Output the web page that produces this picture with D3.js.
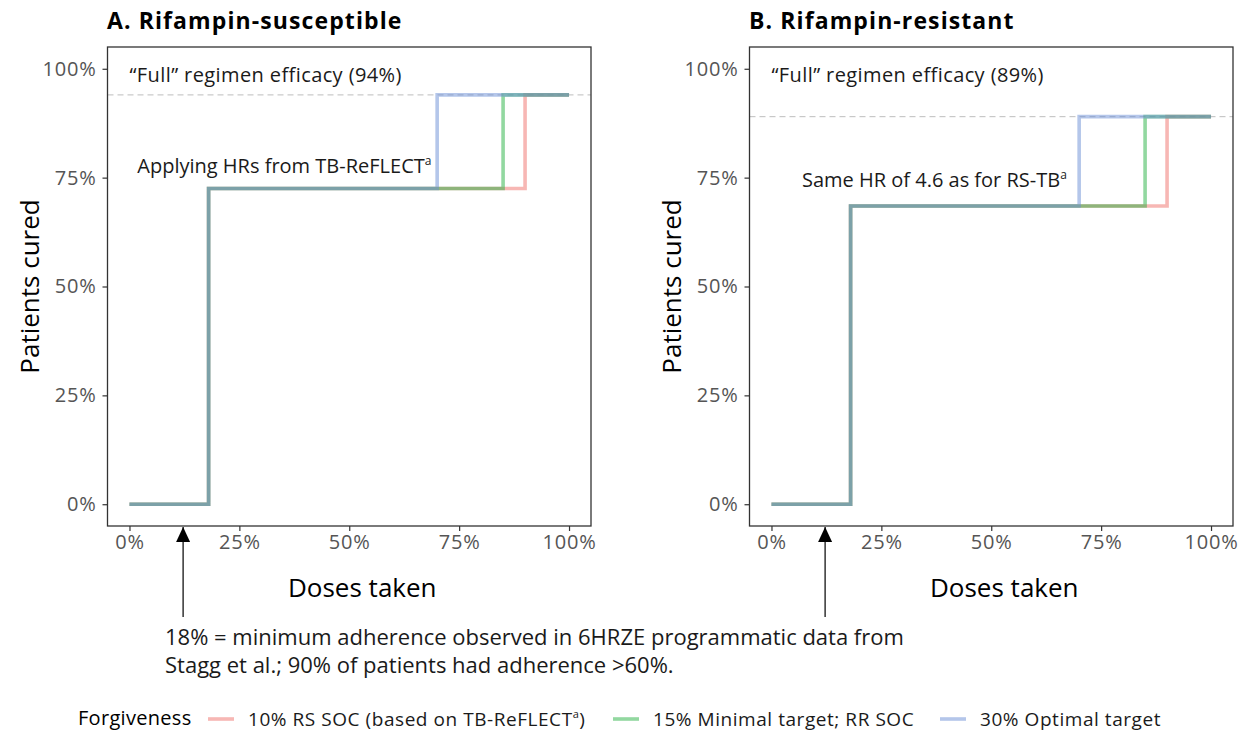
<!DOCTYPE html>
<html>
<head>
<meta charset="utf-8">
<script src="https://cdn.jsdelivr.net/npm/d3@7"></script>
<style>
  body { margin: 0; background: #fff; }
  text { font-family: "Open Sans", "Noto Sans", sans-serif; }
</style>
</head>
<body>
<script>
// data
const panelTitles = ["A. Rifampin-susceptible", "B. Rifampin-resistant"];
const fullEfficacy = [0.94, 0.89];
const partialCure = [0.725, 0.685];
const fullLabels = ["\u201CFull\u201D regimen efficacy (94%)", "\u201CFull\u201D regimen efficacy (89%)"];
const hrLabels = ["Applying HRs from TB-ReFLECT", "Same HR of 4.6 as for RS-TB"];
const minAdherence = 0.18;
const arrowAt = 0.122;
const forgiveness = ["10% RS SOC (based on TB-ReFLECT", "15% Minimal target; RR SOC", "30% Optimal target"];
const fullDoseAt = [0.90, 0.85, 0.70];   // dose fraction where cure reaches full efficacy
const seriesColors = ["#EF6F69", "#25B141", "#698DD5"];
const tickValues = [0, 0.25, 0.5, 0.75, 1];
const footnote = ["18% = minimum adherence observed in 6HRZE programmatic data from",
                  "Stagg et al.; 90% of patients had adherence >60%."];

const width = 1254, height = 734;
const panelLeft = [107.5, 749.5];
const panelW = 483.5;
const plotTop = 47, plotBottom = 526;

const svg = d3.select("body").append("svg")
    .attr("width", width)
    .attr("height", height);

svg.append("defs").append("marker")
    .attr("id", "arrow")
    .attr("viewBox", "0 0 14 15")
    .attr("refX", 7).attr("refY", 0)
    .attr("markerWidth", 14).attr("markerHeight", 15)
    .attr("markerUnits", "userSpaceOnUse")
    .attr("orient", "0")
    .append("path")
    .attr("d", "M0,15 L7,0 L14,15 Z")
    .attr("fill", "#000");

const pct = d3.format(".0%");

panelTitles.forEach((title, p) => {
    const x = d3.scaleLinear().domain([-0.05, 1.05]).range([panelLeft[p], panelLeft[p] + panelW]);
    const y = d3.scaleLinear().domain([-0.05, 1.05]).range([plotBottom, plotTop]);
    const g = svg.append("g");

    // title
    g.append("text")
        .attr("x", panelLeft[p] - 0.5).attr("y", 29)
        .attr("font-size", 23).attr("font-weight", "bold")
        .attr("letter-spacing", 1.1)
        .attr("fill", "#000")
        .text(title);

    // reference line at full efficacy
    g.append("line")
        .attr("x1", x.range()[0]).attr("x2", x.range()[1])
        .attr("y1", y(fullEfficacy[p])).attr("y2", y(fullEfficacy[p]))
        .attr("stroke", "#bdbdbd").attr("stroke-width", 1)
        .attr("stroke-dasharray", "6,4");

    // step lines
    const line = d3.line()
        .x(d => x(d[0]))
        .y(d => y(d[1]))
        .curve(d3.curveStepAfter);

    fullDoseAt.forEach((fx, i) => {
        const pts = [[0, 0], [minAdherence, partialCure[p]], [fx, fullEfficacy[p]], [1, fullEfficacy[p]]];
        g.append("path")
            .datum(pts)
            .attr("fill", "none")
            .attr("stroke", seriesColors[i])
            .attr("stroke-opacity", 0.5)
            .attr("stroke-width", 3.6)
            .attr("d", line);
    });

    // annotations
    g.append("text")
        .attr("x", x(0)).attr("y", 82)
        .attr("font-size", 20).attr("letter-spacing", 0.4).attr("fill", "#1a1a1a")
        .text(fullLabels[p]);

    const hr = g.append("text")
        .attr("x", p === 0 ? x(0.687) : x(0.672))
        .attr("y", p === 0 ? 173 : 187)
        .attr("text-anchor", "end")
        .attr("font-size", 20).attr("fill", "#1a1a1a");
    hr.append("tspan").text(hrLabels[p]);
    hr.append("tspan").attr("font-size", 12).attr("dy", -8).text("a");

    // axes
    const xAxis = d3.axisBottom(x).tickValues(tickValues).tickFormat(pct).tickSize(5).tickPadding(4);
    const yAxis = d3.axisLeft(y).tickValues(tickValues).tickFormat(pct).tickSize(5).tickPadding(6);

    g.append("g")
        .attr("transform", `translate(0,${plotBottom})`)
        .call(xAxis)
        .call(a => a.select(".domain").remove())
        .call(a => a.selectAll(".tick line").attr("stroke", "#333").attr("stroke-width", 1.2))
        .call(a => a.selectAll(".tick text").attr("font-size", 20).attr("letter-spacing", 0.8)
            .attr("fill", "#555").attr("font-family", "'Open Sans', sans-serif"));

    g.append("g")
        .attr("transform", `translate(${panelLeft[p]},0)`)
        .call(yAxis)
        .call(a => a.select(".domain").remove())
        .call(a => a.selectAll(".tick line").attr("stroke", "#333").attr("stroke-width", 1.2))
        .call(a => a.selectAll(".tick text").attr("font-size", 20).attr("letter-spacing", 0.8)
            .attr("fill", "#555").attr("font-family", "'Open Sans', sans-serif"));

    // panel border
    g.append("rect")
        .attr("x", panelLeft[p]).attr("y", plotTop)
        .attr("width", panelW).attr("height", plotBottom - plotTop)
        .attr("fill", "none").attr("stroke", "#333").attr("stroke-width", 1.3);

    // axis titles
    g.append("text")
        .attr("x", (x.range()[0] + x.range()[1]) / 2 + 13).attr("y", 597)
        .attr("text-anchor", "middle")
        .attr("font-size", 26).attr("fill", "#000")
        .text("Doses taken");

    g.append("text")
        .attr("transform", `translate(${panelLeft[p] - 69},${(plotTop + plotBottom) / 2}) rotate(-90)`)
        .attr("text-anchor", "middle")
        .attr("font-size", 26).attr("fill", "#000")
        .text("Patients cured");

    // arrow to minimum adherence
    g.append("line")
        .attr("x1", x(arrowAt)).attr("x2", x(arrowAt))
        .attr("y1", 617).attr("y2", plotBottom + 1)
        .attr("stroke", "#000").attr("stroke-width", 1.2)
        .attr("marker-end", "url(#arrow)");
});

// footnote
svg.append("text")
    .attr("x", 165).attr("y", 645)
    .attr("font-size", 22).attr("fill", "#1a1a1a")
    .selectAll("tspan")
    .data(footnote)
    .join("tspan")
    .attr("x", 165)
    .attr("dy", (d, i) => i === 0 ? 0 : 28)
    .text(d => d);

// legend
const legY = 719;
svg.append("text")
    .attr("x", 78).attr("y", legY + 6)
    .attr("font-family", "'Liberation Sans', Arial, sans-serif")
    .attr("font-size", 20).attr("letter-spacing", 0.3).attr("fill", "#000")
    .text("Forgiveness");

const keyX = [208, 613, 940];
forgiveness.forEach((label, i) => {
    svg.append("line")
        .attr("x1", keyX[i]).attr("x2", keyX[i] + 26)
        .attr("y1", legY).attr("y2", legY)
        .attr("stroke", seriesColors[i]).attr("stroke-opacity", 0.5)
        .attr("stroke-width", 3.6);
    const t = svg.append("text")
        .attr("x", keyX[i] + 40).attr("y", legY + 7)
        .attr("font-size", 19).attr("letter-spacing", 0.55).attr("fill", "#1a1a1a");
    t.append("tspan").text(label);
    if (i === 0) {
        t.append("tspan").attr("font-size", 11).attr("dy", -8).text("a");
        t.append("tspan").attr("dy", 8).text(")");
    }
});
</script>
</body>
</html>
